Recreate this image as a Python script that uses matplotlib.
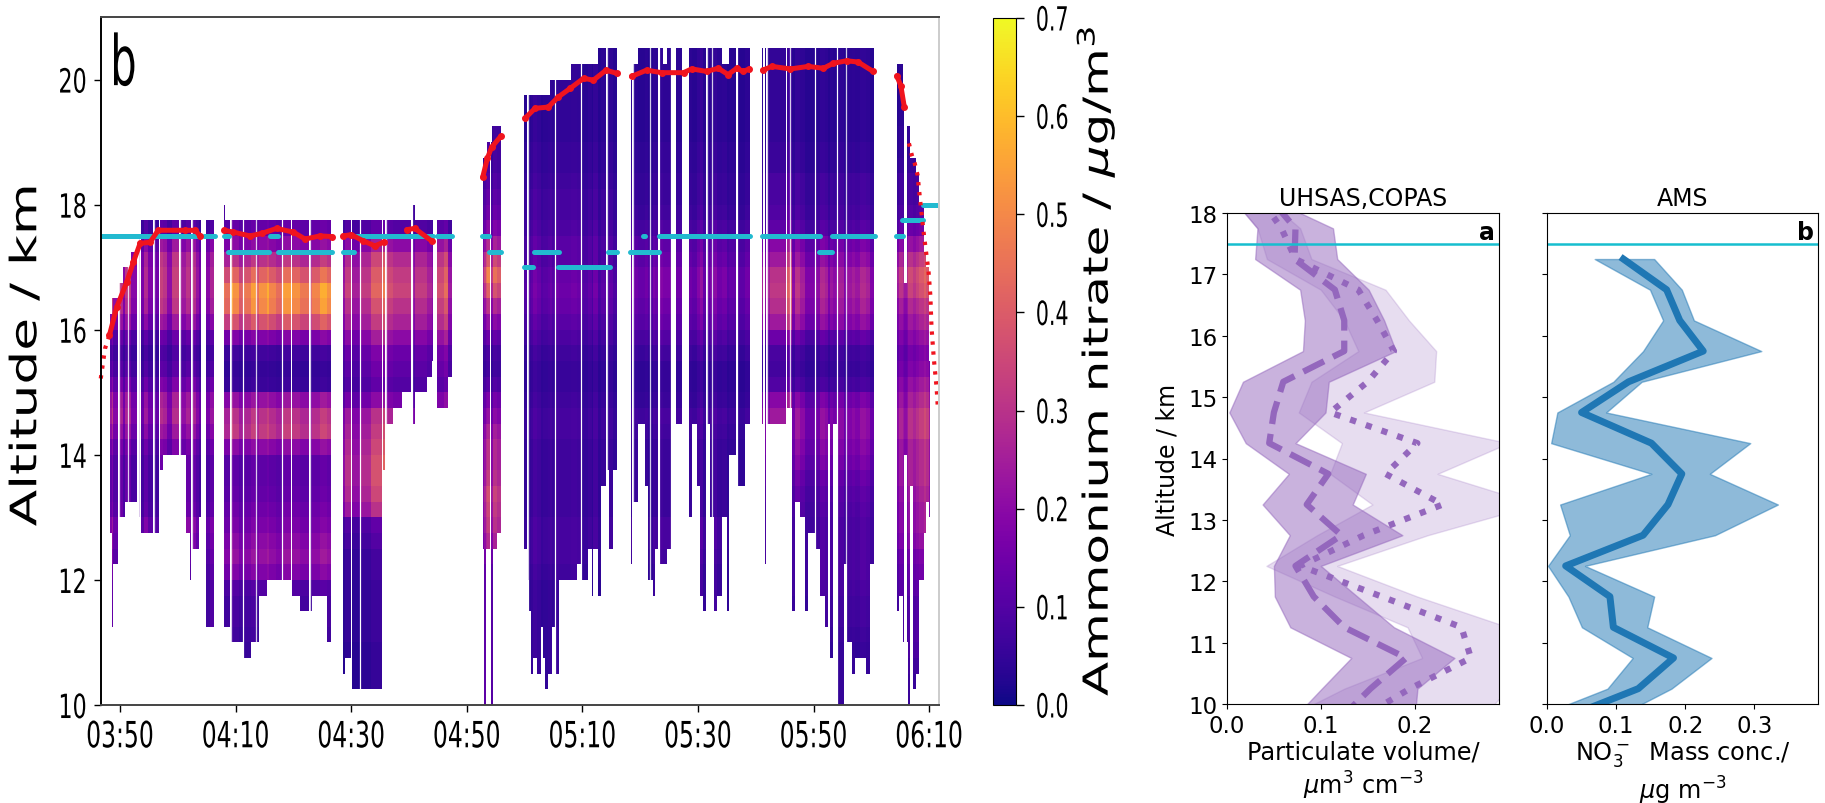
import numpy as np
import matplotlib
matplotlib.use('Agg')
import matplotlib.pyplot as plt
import matplotlib.patheffects as pe
from matplotlib.cm import ScalarMappable
from matplotlib.colors import Normalize
from matplotlib.transforms import Affine2D

# left panel: time is minutes after 03:50, altitude in km
time_ticks = [0, 20, 40, 60, 80, 100, 120, 140]
time_labels = ['03:50', '04:10', '04:30', '04:50', '05:10', '05:30', '05:50', '06:10']
alt_ticks = [10, 12, 14, 16, 18, 20]
cbar_ticks = [0.0, 0.1, 0.2, 0.3, 0.4, 0.5, 0.6, 0.7]

# ammonium nitrate per 0.25 km bin from 10 km up to 20.5 km, one profile per flight part
profile_a = [.10, .10, .10, .10, .10, .10, .10, .10,
             .12, .14, .16, .18, .13, .12, .12, .12,
             .15, .20, .24, .22, .15, .10, .08, .12,
             .20, .26, .28, .28, .26, .20, .10, .10,
             .1, .1, .1, .1, .1, .1, .1, .1, .1, .1]
profile_b = [.06, .06, .06, .06, .07, .08, .08, .10,
             .18, .22, .20, .17, .15, .13, .12, .12,
             .20, .32, .30, .22, .06, .05, .07, .18,
             .38, .50, .52, .42, .30, .20, .13, .1,
             .1, .1, .1, .1, .1, .1, .1, .1, .1, .1]
profile_c = [.04, .04, .04, .04, .05, .05, .05, .05,
             .06, .06, .08, .10, .24, .28, .30, .30,
             .28, .26, .24, .16, .10, .12, .14, .20,
             .26, .30, .34, .32, .28, .20, .10, .1,
             .1, .1, .1, .1, .1, .1, .1, .1, .1, .1]
profile_d = [.15, .15, .15, .15, .15, .15, .15, .15,
             .16, .20, .26, .30, .32, .34, .30, .28,
             .28, .25, .20, .16, .10, .07, .08, .13,
             .20, .28, .38, .45, .36, .26, .18, .14,
             .12, .10, .08, .08, .07, .06, .06, .06, .06, .06]
profile_e = [.05, .05, .05, .05, .05, .05, .05, .05,
             .06, .07, .07, .07, .06, .06, .06, .06,
             .06, .07, .07, .06, .05, .05, .06, .08,
             .10, .12, .13, .12, .10, .10, .08, .07,
             .07, .06, .05, .05, .04, .04, .04, .04, .04, .04]
profile_f = [.05, .05, .05, .05, .06, .06, .06, .06,
             .06, .07, .08, .08, .06, .06, .06, .06,
             .06, .07, .08, .06, .05, .05, .07, .10,
             .13, .15, .17, .17, .14, .12, .09, .07,
             .06, .06, .05, .05, .04, .04, .04, .04, .04, .04]
profile_g = [.05, .05, .05, .05, .06, .07, .07, .08,
             .09, .09, .09, .09, .10, .11, .13, .16,
             .18, .20, .20, .16, .08, .06, .07, .12,
             .20, .24, .26, .25, .20, .16, .10, .08,
             .07, .07, .05, .05, .04, .04, .04, .04, .04, .04]
profile_h = [.06, .06, .07, .09, .10, .10, .10, .12,
             .14, .16, .20, .22, .22, .24, .26, .26,
             .26, .30, .30, .26, .22, .18, .16, .20,
             .24, .28, .34, .36, .30, .22, .14, .10,
             .08, .08, .06, .05, .05, .04, .04, .04, .04, .04]

# start, end, lowest altitude, highest altitude, strength of each measurement block
blocks_a = [(-1.73, -1.33, 12.75, 16.25, 1.0), (-1.33, -1.15, 11.25, 16.5, 1.3),
            (-1.15, -0.29, 12.25, 16.5, .8), (-0.12, .58, 13, 16.75, 1.1),
            (.58, .87, 13, 17, .7), (.87, 1.85, 13.25, 17, 1.1),
            (1.85, 3.0, 13.25, 17.25, .7), (3.2, 3.46, 13, 17.5, .9),
            (3.58, 4.2, 12.75, 17.75, .6), (4.2, 4.9, 12.75, 17.75, 1.0),
            (4.9, 5.7, 12.75, 17.75, .65), (5.85, 6.81, 12.75, 17.75, .55),
            (6.85, 7.38, 13.75, 17.75, 1.2), (7.38, 8.2, 14, 17.75, 1.1),
            (8.2, 9.0, 14, 17.75, .75), (9.0, 10.2, 14, 17.75, 1.2),
            (10.35, 11.42, 14, 17.75, .9), (11.42, 12.11, 12.75, 17.75, 1.1),
            (12.11, 12.35, 12, 17.75, .9), (12.5, 13.1, 12.5, 17.75, 1.1),
            (13.1, 13.73, 12.5, 17.75, .8), (13.73, 13.96, 13, 17.75, .55),
            (14.88, 15.6, 11.25, 17.75, .7), (15.6, 16.32, 11.25, 17.75, .95)]
blocks_b = [(18.05, 18.2, 11.25, 18, .9), (18.2, 19.1, 11.25, 17.75, .85),
            (19.2, 19.61, 11, 17.75, 1.1), (19.61, 20.65, 11, 17.75, 1.0),
            (20.65, 21.3, 11, 17.75, .8), (21.4, 22.66, 10.75, 17.75, .9),
            (22.66, 23.45, 11, 17.75, 1.05), (23.55, 24.11, 11, 17.75, .85),
            (24.11, 25.49, 11.75, 17.75, 1.0), (25.49, 25.84, 12, 17.75, 1.1),
            (25.84, 27.0, 12, 17.75, .95), (27.0, 28.05, 12, 17.75, .85),
            (28.15, 29.53, 12, 17.75, 1.05), (29.76, 31.14, 11.75, 17.75, 1.0),
            (31.14, 32.75, 11.5, 17.75, .9), (32.85, 33.16, 11.5, 17.75, .8),
            (33.16, 34.6, 11.75, 17.75, .95), (34.6, 35.87, 11.75, 17.75, 1.1),
            (35.87, 36.51, 11, 17.75, 1.0)]
blocks_c = [(38.52, 38.93, 10.5, 17.75, .7), (38.93, 39.91, 10.75, 17.75, 1.0),
            (40.08, 41.52, 10.25, 17.75, .75), (41.7, 43.5, 10.25, 17.75, .95),
            (43.5, 45.27, 10.25, 17.75, 1.25), (45.44, 45.85, 13.75, 17.75, 1.4),
            (46.05, 47.29, 14.5, 17.75, 1.1), (47.29, 48.73, 14.75, 17.75, 1.0),
            (48.73, 50.4, 15, 17.75, 1.0), (50.6, 51.1, 14.5, 18, .7),
            (51.1, 53.06, 15, 17.75, .95), (53.06, 53.92, 15.25, 17.75, .8),
            (53.92, 54.21, 15.5, 17.75, .7), (54.79, 56.0, 14.75, 17.75, 1.1),
            (56.0, 56.81, 14.75, 17.75, 1.3), (56.81, 57.38, 15.25, 17.75, .7)]
blocks_d = [(62.75, 62.98, 12.5, 18.75, .6), (62.98, 63.32, 10, 18.75, .8),
            (63.32, 63.55, 12.5, 18.75, 1.0), (63.55, 64.01, 12.5, 19, 1.1),
            (64.13, 64.3, 10, 19, .7), (64.3, 64.59, 10, 19.25, .7),
            (64.59, 65.17, 12.5, 19.25, 1.0), (65.17, 65.86, 12.75, 19.25, .9)]
blocks_e = [(69.95, 70.35, 12.5, 19.75, .8), (70.6, 70.82, 12, 19.75, 1.0),
            (70.82, 71.05, 11.5, 19.75, .8), (71.05, 71.39, 10.5, 19.75, 1.0),
            (71.39, 72.09, 10.75, 19.75, 1.3), (72.09, 72.78, 10.5, 19.75, 1.1),
            (72.78, 73.24, 11.25, 19.75, .8), (73.24, 73.59, 10.75, 19.75, .9),
            (73.59, 74.11, 10.25, 19.75, .9), (74.11, 74.39, 10.5, 19.75, 1.0),
            (74.39, 74.68, 10.5, 20, 1.1), (74.68, 75.2, 11.25, 20, .9),
            (75.35, 76.01, 10.5, 20, 1.2), (76.01, 77.97, 12, 20, 1.1),
            (77.97, 79.01, 12, 20.25, 1.2), (79.01, 79.7, 12.25, 20.25, 1.1),
            (79.9, 81.03, 12, 20.25, .8), (81.03, 81.6, 12.5, 20.25, 1.0),
            (81.6, 81.89, 11.75, 20.25, .7), (81.89, 82.76, 12.5, 20.25, 1.2),
            (82.76, 83.22, 11.75, 20.5, .7), (83.22, 84.15, 13.5, 20.5, .9),
            (84.25, 84.66, 13.75, 20.5, .7), (84.66, 85.35, 12.5, 20.5, 1.0),
            (85.35, 85.92, 13.75, 20.5, .7)]
blocks_f = [(88.35, 88.6, 12.25, 20, 1.0), (88.8, 89.68, 13.25, 20.25, .9),
            (89.68, 90.83, 14.5, 20.5, .8), (90.83, 91.29, 13.5, 20.5, .9),
            (91.29, 92.27, 12, 20.5, .7), (92.27, 92.56, 11.75, 20.5, 1.0),
            (92.56, 93.14, 12.5, 20.5, .9), (93.4, 93.9, 12.25, 20.5, 1.1),
            (93.9, 94.6, 12.25, 20.25, 1.0), (94.6, 95.28, 12.5, 20.5, 1.0),
            (96.14, 97.18, 14.5, 20.5, .9), (98.5, 98.9, 13, 20.5, .9),
            (98.9, 99.77, 14.5, 20.5, .8), (99.77, 100.35, 13.5, 20.5, 1.1),
            (100.35, 100.81, 11.75, 20.5, 1.3), (100.81, 101.4, 11.5, 20.5, .8),
            (101.6, 102.08, 14.5, 20.5, .9), (102.15, 102.83, 13, 20.5, 1.0),
            (102.83, 103.23, 11.5, 20.5, 1.2), (103.23, 104.1, 11.75, 20.5, .9),
            (104.1, 105.0, 13, 20.25, 1.0), (105.0, 105.3, 11.5, 20.25, .7),
            (105.3, 106.6, 14, 20.5, .8), (106.98, 108.13, 13.5, 20.5, .7),
            (108.13, 109, 14.5, 20.5, .9)]
blocks_g = [(111.01, 111.3, 14.5, 20.5, 1.0), (111.59, 111.85, 12.25, 20.5, .9),
            (111.95, 112.46, 14.5, 20.5, 1.0), (112.46, 113.32, 14.5, 20.5, 1.2),
            (113.32, 115.2, 14.5, 20.5, 1.2), (115.34, 116.2, 14.75, 20.5, 1.6),
            (116.2, 116.78, 11.5, 20.5, .8), (116.78, 117.65, 13.25, 20.5, 1.2),
            (117.65, 118.51, 13, 20.5, 1.0), (118.51, 119.09, 11.5, 20.5, .7),
            (119.09, 120.2, 12.75, 20.5, .7), (120.35, 121.11, 12.5, 20.5, .8),
            (121.11, 121.97, 11.75, 20.5, 1.1), (121.97, 122.43, 11.25, 20.5, 1.0),
            (122.43, 122.84, 14.5, 20.5, .7), (122.84, 123.41, 10.75, 20.5, .9),
            (123.41, 124.0, 14.5, 20.5, .8), (124.2, 125.26, 10, 20.5, 1.0),
            (125.26, 125.72, 12.25, 20.5, .7), (125.72, 126.59, 11, 20.5, .9),
            (126.59, 127.16, 10.5, 20.5, 1.0), (127.16, 128.03, 10.75, 20.5, .9),
            (128.03, 129.07, 10.75, 20.5, 1.1), (129.07, 129.76, 10.5, 20.5, 1.0),
            (129.76, 130.51, 12.25, 20.5, .7)]
blocks_h = [(134.37, 134.83, 11.5, 20.25, .7), (134.83, 135.4, 11.75, 20.25, .9),
            (135.4, 135.62, 11, 19.75, .8), (135.7, 136.1, 14, 16.75, .7),
            (136.1, 136.4, 11, 19.25, .8), (136.4, 136.7, 10, 19.25, 1.0),
            (136.7, 137.2, 13.5, 18.75, 1.0), (137.2, 137.8, 10.25, 18.75, .9),
            (137.8, 138.3, 10.5, 18.5, 1.0), (138.3, 139.1, 12, 18, 1.1),
            (139.1, 139.4, 12.75, 17.25, 1.2), (139.4, 139.9, 13.25, 17, 1.1),
            (139.9, 140.15, 13, 15.5, .8)]

# thin white lines between spectra
gap_times = [-0.1, 1.44, 3.2, 5.8, 10.3, 12.4, 19.15, 21.3, 23.5, 28.1, 32.8, 41.6, 46, 50.5,
             70.6, 75.3, 79.8, 84.2, 88.7, 91.7, 93.3, 95.4, 98, 101.5, 102.4, 106.7,
             111.9, 116, 120.3, 124.1, 125.6]

# aircraft altitude, one list per stretch without a gap
red_times = [[-1.85, -0.58, 1.15, 2.3, 3.46, 5.19, 6.6, 11.25, 13.0, 13.84],
             [18.05, 19.6, 22.5, 24.5, 27.1, 30, 32, 34.6, 36.6],
             [38.6, 40, 42.1, 44.1, 45.6],
             [49.6, 51, 53.9],
             [62.75, 63.55, 64.3, 65.86],
             [70.07, 71.8, 74.1, 75.8, 77.9, 80.2, 81.9, 84.1, 85.9],
             [88.5, 91.1, 93.7, 97.5, 98.9, 101.5, 103.5, 105.2, 106.7, 107.8, 108.9],
             [111.2, 112.8, 116, 119.1, 121.7, 123.4, 125.7, 127.7, 130.3],
             [134.4, 135.1, 135.7]]
red_alts = [[15.91, 16.36, 16.76, 17.08, 17.38, 17.4, 17.59, 17.59, 17.59, 17.5],
            [17.59, 17.56, 17.5, 17.54, 17.62, 17.56, 17.45, 17.5, 17.49],
            [17.5, 17.52, 17.42, 17.34, 17.4],
            [17.6, 17.62, 17.42],
            [18.44, 18.74, 18.92, 19.09],
            [19.38, 19.54, 19.56, 19.72, 19.86, 20.02, 19.99, 20.15, 20.1],
            [20.05, 20.15, 20.11, 20.11, 20.17, 20.13, 20.18, 20.08, 20.18, 20.13, 20.17],
            [20.15, 20.21, 20.17, 20.21, 20.18, 20.26, 20.3, 20.28, 20.13],
            [20.06, 19.9, 19.56]]
# the climb and the descent are sparse, so they read as dots
red_sparse_times = [[-3.34, -2.6, -1.85],
                    [136.5, 137, 137.5, 138, 138.4, 139.1, 139.9, 140.2, 140.4, 140.8, 141.3, 141.5]]
red_sparse_alts = [[15.22, 15.7, 15.91],
                   [18.98, 18.79, 18.66, 18.47, 18.1, 17.51, 16.92, 16.55, 16.04, 15.54, 15.06, 14.74]]

# tropopause stretches: start, end, altitude
cyan_start = [-3.3, 14.6, 18, 26, 40.9, 54.9, 62.7, 90.4, 93.2, 111.1, 123.1, 134.3,
              18.7, 27.4, 38.5, 63.9, 71.6, 84.5, 88.3, 121, 69.95, 75.8, 135.3, 139]
cyan_end = [13.9, 16.4, 18.9, 27.4, 54.2, 57.4, 63.9, 90.8, 109, 121.1, 130.6, 135.4,
            25.8, 36.6, 40.5, 65.9, 76, 86, 93.2, 123.1, 71.4, 84.7, 139, 141.7]
cyan_alt = [17.5, 17.5, 17.5, 17.5, 17.5, 17.5, 17.5, 17.5, 17.5, 17.5, 17.5, 17.5,
            17.25, 17.25, 17.25, 17.25, 17.25, 17.25, 17.25, 17.25, 17, 17, 17.75, 18]

# right panels: knots every 0.5 km, running past the axis limits
levels = [9.75, 10.25, 10.75, 11.25, 11.75, 12.25, 12.75, 13.25, 13.75, 14.25, 14.75,
          15.25, 15.75, 16.25, 16.75, 17.25, 17.75, 18.25]
dashed_mid = [.12, .153, .191, .125, .0925, .073, .122, .085, .108, .045, .05, .06, .125, .125, .115, .072, .073, .045]
dashed_low = [.07, .101, .1325, .0675, .051, .05, .067, .038, .066, .02, .0025, .017, .081, .083, .078, .03, .0325, .005]
dashed_high = [.2, .203, .2425, .178, .139, .10, .187, .134, .148, .073, .105, .1085, .18, .1675, .151, .1175, .113, .043]
dotted_mid = [.14, .195, .26, .25, .165, .078, .146, .23, .169, .203, .11, .15, .178, .16, .14, .073, .058, .035]
dotted_low = [.06, .125, .208, .1925, .115, .042, .096, .155, .11, .1225, .0765, .09, .14, .125, .10, .0425, .0325, .005]
dotted_high = [.27, .30, .33, .30, .203, .1175, .214, .33, .2245, .30, .146, .221, .223, .194, .169, .09, .078, .04]

ams_levels = levels[:16]
ams_mid = [.02, .132, .183, .096, .091, .027, .139, .175, .195, .151, .05, .118, .226, .192, .173, .1105]
ams_low = [-.025, .0875, .124, .0505, .031, .0015, .033, .019, .151, .006, .015, .096, .139, .168, .149, .069]
ams_high = [.094, .18, .238, .145, .155, .055, .243, .334, .2355, .294, .0855, .137, .31, .2125, .195, .155]
ams_ticks = [0.0, 0.1, 0.2, 0.3]
uhsas_ticks = [0.0, 0.1, 0.2]
right_alt_ticks = [10, 11, 12, 13, 14, 15, 16, 17, 18]

W, H = 1825, 804


class Squeeze(pe.AbstractPathEffect):
    """Rescale drawn text, the reference panel was resized unevenly"""

    def __init__(self, sx, sy=1.0, anchor='center'):
        super().__init__()
        self.sx = sx
        self.sy = sy
        self.anchor = anchor

    def draw_path(self, renderer, gc, tpath, affine, rgbFace=None):
        box = tpath.get_extents(affine)
        x0 = {'left': box.x0, 'right': box.x1, 'center': (box.x0 + box.x1) / 2}[self.anchor]
        y0 = (box.y0 + box.y1) / 2
        scaled = affine + Affine2D().translate(-x0, -y0).scale(self.sx, self.sy).translate(x0, y0)
        renderer.draw_path(gc, tpath, scaled, rgbFace)


def axes_px(fig, left, top, right, bottom):
    # axes from pixel edges, y counted from the top of the image
    return fig.add_axes([left / W, 1 - bottom / H, (right - left) / W, (bottom - top) / H])


def draw_blocks(ax, blocks, profile, edges):
    profile = np.array(profile)
    for start, end, low, high, gain in blocks:
        i0 = int(round((low - 10) / 0.25))
        i1 = int(round((high - 10) / 0.25))
        cells = (profile[i0:i1] * gain).reshape(-1, 1)
        ax.pcolormesh([start, end], edges[i0:i1 + 1], cells, cmap='plasma',
                      vmin=0, vmax=0.7, shading='flat', rasterized=True)


fig = plt.figure(figsize=(W / 100, H / 100), dpi=100)

# time-height panel
ax = axes_px(fig, 101, 18, 939, 706)
edges = np.arange(10, 20.75, 0.25)
for blocks, profile in [(blocks_a, profile_a), (blocks_b, profile_b), (blocks_c, profile_c),
                        (blocks_d, profile_d), (blocks_e, profile_e), (blocks_f, profile_f),
                        (blocks_g, profile_g), (blocks_h, profile_h)]:
    draw_blocks(ax, blocks, profile, edges)
ax.vlines(gap_times, 10, 21, color='white', lw=0.9, alpha=0.8)
for s, e, a in zip(cyan_start, cyan_end, cyan_alt):
    ax.plot([s, e], [a, a], color='#22bad0', lw=3.6, solid_capstyle='round')
for t, a in zip(red_times, red_alts):
    ax.plot(t, a, color='#f0141e', lw=3.6, marker='o', ms=4, solid_capstyle='round')
for t, a in zip(red_sparse_times, red_sparse_alts):
    ax.plot(t, a, color='#f0141e', lw=3, ls=(0, (0.8, 1.6)), clip_on=False)
ax.set_xlim(-3.3, 141.7)
ax.set_ylim(10, 21)
ax.set_xticks(time_ticks)
ax.set_xticklabels(time_labels, fontsize=26)
ax.set_yticks(alt_ticks)
ax.set_yticklabels([str(v) for v in alt_ticks], fontsize=20)
ax.tick_params(length=5, width=1, pad=6)
ax.tick_params(axis='y', pad=5)
for lab in ax.get_xticklabels():
    lab.set_path_effects([Squeeze(0.65)])
for lab in ax.get_yticklabels():
    lab.set_path_effects([Squeeze(0.8, 1.2, 'right')])
ax.set_ylabel('Altitude / km', fontsize=32, va='center')
ax.yaxis.label.set_path_effects([Squeeze(0.82, 1.2)])
ax.yaxis.set_label_coords(-0.089, 0.509)
ax.text(0.008, 0.978, 'b', transform=ax.transAxes, fontsize=50, va='top', ha='left',
        path_effects=[Squeeze(0.6, 1.0, 'left')])
for s in ax.spines.values():
    s.set_linewidth(1.4)
ax.spines['top'].set_color('#444444')
ax.spines['bottom'].set_color('#444444')
ax.spines['right'].set_color('#cccccc')

# colour bar
cax = axes_px(fig, 993, 19, 1016, 706)
cb = fig.colorbar(ScalarMappable(Normalize(0, 0.7), 'plasma'), cax=cax)
cb.set_ticks(cbar_ticks)
cb.ax.set_yticklabels(['%.1f' % v for v in cbar_ticks], fontsize=19)
cb.ax.tick_params(length=6, width=1, pad=8)
for lab in cb.ax.get_yticklabels():
    lab.set_path_effects([Squeeze(0.78, 1.26, 'left')])
cb.set_label('Ammonium nitrate / $\\mu$g/m$^3$', fontsize=31, va='center')
cb.ax.yaxis.label.set_path_effects([Squeeze(0.8, 1.16, 'left')])
cb.ax.yaxis.set_label_coords((1101 - 993) / 23, 0.5)

# UHSAS / COPAS panel
ax1 = axes_px(fig, 1227, 214, 1499, 705)
ax1.fill_betweenx(levels, dotted_low, dotted_high, color='#9467bd', alpha=0.22)
ax1.fill_betweenx(levels, dashed_low, dashed_high, color='#9467bd', alpha=0.5)
ax1.plot(dotted_mid, levels, color='#9467bd', lw=4.5, ls=':')
ax1.plot(dashed_mid, levels, color='#9467bd', lw=4.5, ls='--')
ax1.axhline(17.5, color='#17becf', lw=1.8)
ax1.set_xlim(0, 0.29)
ax1.set_ylim(10, 18)
ax1.set_xticks(uhsas_ticks)
ax1.set_yticks(right_alt_ticks)
ax1.tick_params(labelsize=16.5)
ax1.set_title('UHSAS,COPAS', fontsize=17, pad=6)
ax1.set_xlabel('Particulate volume/\n$\\mu$m$^3$ cm$^{-3}$', fontsize=17.3, labelpad=2)
ax1.set_ylabel('Altitude / km', fontsize=17, labelpad=6)
ax1.text(0.985, 0.985, 'a', transform=ax1.transAxes, fontsize=17, fontweight='bold', ha='right', va='top')

# AMS panel
ax2 = axes_px(fig, 1547, 214, 1818, 705)
ax2.fill_betweenx(ams_levels, ams_low, ams_high, color='#1f77b4', alpha=0.5)
ax2.plot(ams_mid, ams_levels, color='#1f77b4', lw=5)
ax2.axhline(17.5, color='#17becf', lw=1.8)
ax2.set_xlim(0, 0.392)
ax2.set_ylim(10, 18)
ax2.set_xticks(ams_ticks)
ax2.set_yticks(right_alt_ticks)
ax2.set_yticklabels([])
ax2.tick_params(labelsize=16.5)
ax2.set_title('AMS', fontsize=17, pad=6)
ax2.set_xlabel('NO$_3^-$  Mass conc./\n$\\mu$g m$^{-3}$', fontsize=17.3, labelpad=2)
ax2.text(0.985, 0.985, 'b', transform=ax2.transAxes, fontsize=17, fontweight='bold', ha='right', va='top')

fig.savefig('out.png', dpi=100)
